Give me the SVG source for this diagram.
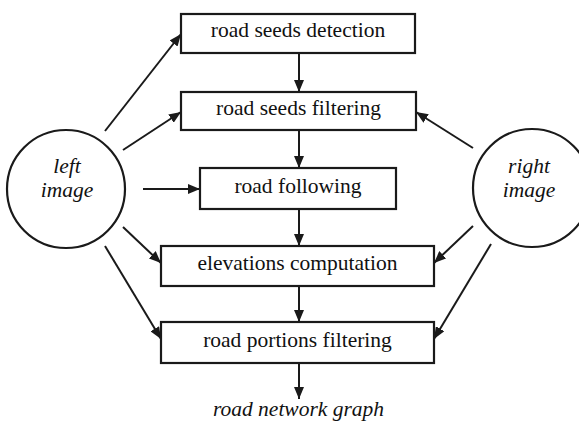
<svg xmlns="http://www.w3.org/2000/svg" width="579" height="425" viewBox="0 0 579 425">
<style>
.box{fill:#fff;stroke:#1a1a1a;stroke-width:2.2}
.circ{fill:#fff;stroke:#1a1a1a;stroke-width:2.2}
.edge{stroke:#1a1a1a;stroke-width:2;fill:none;marker-end:url(#ah)}
</style>
<defs>
<marker id="ah" markerUnits="userSpaceOnUse" markerWidth="12" markerHeight="10" viewBox="0 0 12 10" refX="12" refY="5" orient="auto">
<path d="M0,0 L12,5 L0,10 Z" fill="#1a1a1a"/>
</marker>
</defs>
<rect width="579" height="425" fill="#fff"/>
<g id="connectors">
<line class="edge" x1="299" y1="53" x2="299" y2="92"/>
<line class="edge" x1="299" y1="130" x2="299" y2="168"/>
<line class="edge" x1="299" y1="209" x2="299" y2="246"/>
<line class="edge" x1="299" y1="286" x2="299" y2="322"/>
<line class="edge" x1="299" y1="363" x2="299" y2="399"/>
<line class="edge" x1="105" y1="131" x2="181" y2="34"/>
<line class="edge" x1="123" y1="150" x2="181" y2="112"/>
<line class="edge" x1="143" y1="189" x2="200" y2="189"/>
<line class="edge" x1="123" y1="227" x2="161" y2="263"/>
<line class="edge" x1="105" y1="246" x2="161" y2="339"/>
<line class="edge" x1="473" y1="148" x2="416" y2="112"/>
<line class="edge" x1="473" y1="226" x2="434" y2="263"/>
<line class="edge" x1="491" y1="244" x2="434" y2="339"/>
</g>
<g font-family="Liberation Serif, serif" font-size="21.5" fill="#111" text-anchor="middle">
<g id="left-image">
<circle class="circ" cx="66" cy="189" r="59"/>
<text font-style="italic" x="67" y="173">left</text>
<text font-style="italic" x="67" y="197">image</text>
</g>
<g id="right-image">
<circle class="circ" cx="532" cy="188" r="59"/>
<text font-style="italic" x="529" y="173">right</text>
<text font-style="italic" x="529" y="197">image</text>
</g>
<g id="road-seeds-detection">
<rect class="box" x="181" y="14" width="234" height="39"/>
<text x="298" y="37">road seeds detection</text>
</g>
<g id="road-seeds-filtering">
<rect class="box" x="181" y="92" width="235" height="38"/>
<text x="298.5" y="115">road seeds filtering</text>
</g>
<g id="road-following">
<rect class="box" x="200" y="168" width="196" height="41"/>
<text x="298" y="193">road following</text>
</g>
<g id="elevations-computation">
<rect class="box" x="161" y="246" width="273" height="40"/>
<text x="297.5" y="270">elevations computation</text>
</g>
<g id="road-portions-filtering">
<rect class="box" x="161" y="322" width="273" height="41"/>
<text x="297.5" y="347">road portions filtering</text>
</g>
<g id="road-network-graph">
<text font-style="italic" x="298.5" y="416">road network graph</text>
</g>
</g>
</svg>
